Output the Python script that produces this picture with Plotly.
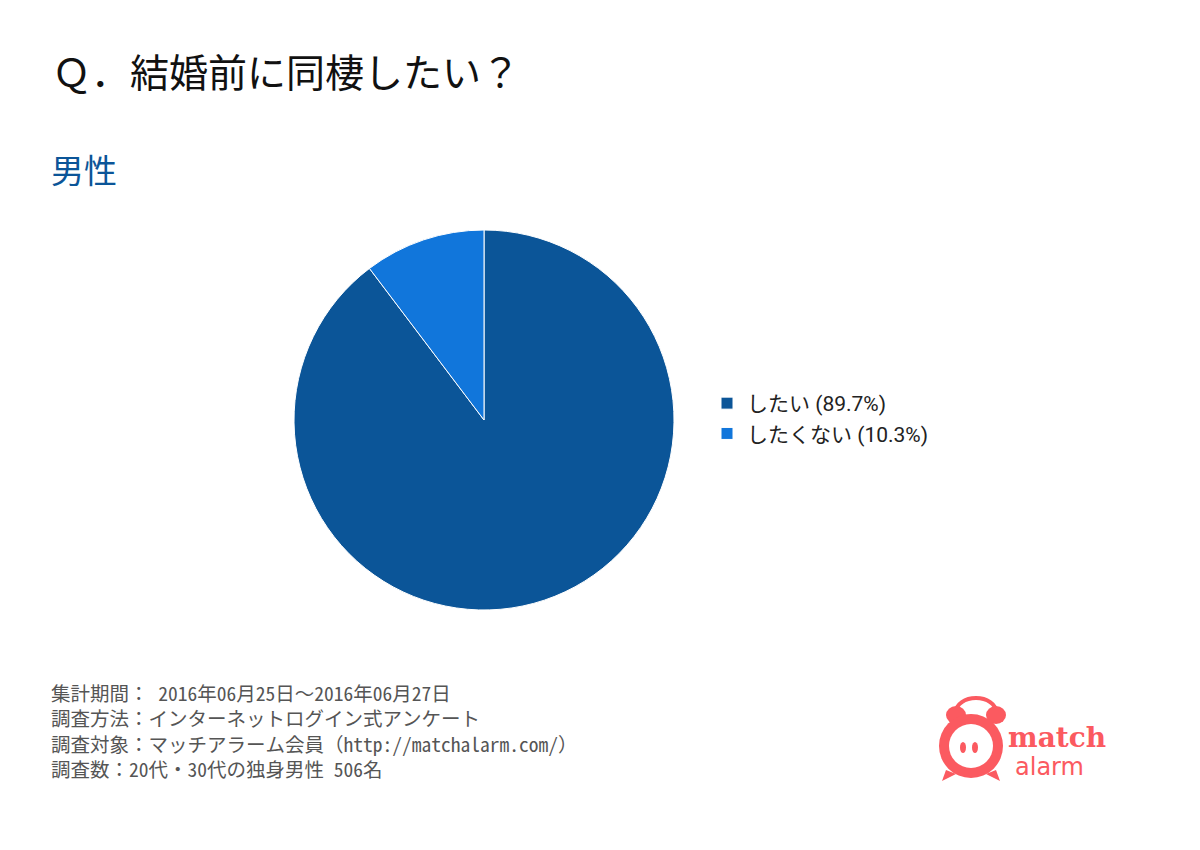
import plotly.graph_objects as go

labels = ["したい", "したくない"]
values = [89.7, 10.3]
colors = ["#0b5598", "#1176db"]

title_text = "Ｑ．結婚前に同棲したい？"
subtitle_text = "男性"
footer_lines = [
    "集計期間： 2016年06月25日～2016年06月27日",
    "調査方法：インターネットログイン式アンケート",
    "調査対象：マッチアラーム会員（http://matchalarm.com/）",
    "調査数：20代・30代の独身男性 506名",
]

legend_labels = [f"{l} ({v}%)" for l, v in zip(labels, values)]

W, H = 1200, 850
fig = go.Figure()
fig.add_trace(go.Pie(
    labels=legend_labels,
    values=values,
    sort=False,
    direction="clockwise",
    rotation=0,
    textinfo="none",
    hoverinfo="label+percent",
    marker=dict(colors=colors, line=dict(color="white", width=1)),
    domain=dict(x=[294 / W, 674 / W], y=[(H - 611) / H, (H - 229) / H]),
))

annotations = [
    dict(text=title_text, x=50 / W, y=1 - 70 / H, xref="paper", yref="paper",
         xanchor="left", yanchor="middle", showarrow=False,
         font=dict(size=39, color="#111111", family="Noto Sans CJK JP")),
    dict(text=subtitle_text, x=49 / W, y=1 - 169 / H, xref="paper", yref="paper",
         xanchor="left", yanchor="middle", showarrow=False,
         font=dict(size=33, color="#0b5598", family="Noto Sans CJK JP")),
    dict(text="<br>".join(footer_lines), x=49 / W, y=1 - 730 / H,
         xref="paper", yref="paper", xanchor="left", yanchor="middle", align="left",
         showarrow=False,
         font=dict(size=19.5, color="#555555",
                   family="Noto Sans Mono CJK JP, Noto Sans CJK JP")),
]

# logo text
red = "#fb5a60"
annotations.append(dict(text="<b>match</b>", x=1006 / W, y=1 - 737 / H, xref="paper", yref="paper",
                        xanchor="left", yanchor="middle", showarrow=False,
                        font=dict(size=28, color=red, family="DejaVu Serif")))
annotations.append(dict(text="alarm", x=1013 / W, y=1 - 767 / H, xref="paper", yref="paper",
                        xanchor="left", yanchor="middle", showarrow=False,
                        font=dict(size=24, color=red, family="DejaVu Sans")))

def px(x):
    return x / W

def py(y):
    return 1 - y / H

shapes = [
    # handle
    dict(type="circle", xref="paper", yref="paper", x0=px(956), x1=px(996), y0=py(726), y1=py(698),
         line=dict(color=red, width=4), fillcolor="rgba(0,0,0,0)"),
    # bells
    dict(type="circle", xref="paper", yref="paper", x0=px(946), x1=px(966), y0=py(724), y1=py(706),
         line=dict(width=0), fillcolor=red),
    dict(type="circle", xref="paper", yref="paper", x0=px(986), x1=px(1006), y0=py(724), y1=py(706),
         line=dict(width=0), fillcolor=red),
    # feet
    dict(type="path", xref="paper", yref="paper",
         path=f"M {px(946)},{py(770)} L {px(942)},{py(781)} L {px(956)},{py(774)} Z",
         line=dict(width=0), fillcolor=red),
    dict(type="path", xref="paper", yref="paper",
         path=f"M {px(996)},{py(770)} L {px(1000)},{py(781)} L {px(986)},{py(774)} Z",
         line=dict(width=0), fillcolor=red),
    # body
    dict(type="circle", xref="paper", yref="paper", x0=px(939), x1=px(1003), y0=py(778), y1=py(714),
         line=dict(width=0), fillcolor=red),
    dict(type="circle", xref="paper", yref="paper", x0=px(949), x1=px(993), y0=py(768), y1=py(724),
         line=dict(width=0), fillcolor="white"),
    # eyes
    dict(type="circle", xref="paper", yref="paper", x0=px(960), x1=px(966), y0=py(753), y1=py(742),
         line=dict(width=0), fillcolor=red),
    dict(type="circle", xref="paper", yref="paper", x0=px(972), x1=px(978), y0=py(753), y1=py(742),
         line=dict(width=0), fillcolor=red),
]

fig.update_layout(
    width=W, height=H,
    margin=dict(l=0, r=0, t=0, b=0),
    paper_bgcolor="white", plot_bgcolor="white",
    showlegend=True,
    legend=dict(x=707 / W, y=1 - 383 / H, xanchor="left", yanchor="top",
                font=dict(size=21, color="#222222", family="Roboto, Noto Sans CJK JP"),
                tracegroupgap=0, itemwidth=30, bgcolor="rgba(0,0,0,0)"),
    annotations=annotations,
    shapes=shapes,
)

fig.write_html("out.html")
